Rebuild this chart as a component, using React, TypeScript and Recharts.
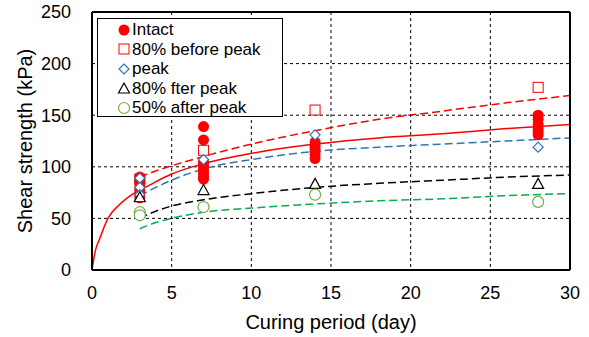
import React from 'react'
import { ComposedChart, Scatter, Line, XAxis, YAxis, CartesianGrid } from 'recharts'

const FONT = '"Liberation Sans", Arial, sans-serif'

const xTicks = [0, 5, 10, 15, 20, 25, 30]
const yTicks = [0, 50, 100, 150, 200, 250]
const yMinorTicks = [0, 25, 50, 75, 100, 125, 150, 175, 200, 225, 250]

// test results per curing day (3, 7, 14, 28 days)
const curingDays = [3, 7, 14, 28]
const intactVals = [
  [90, 87, 84, 80, 77, 73, 70],
  [139, 126, 105, 102, 99, 96, 93, 90, 88],
  [124, 121, 118, 115, 112, 108],
  [150, 146, 141, 137, 134, 131],
]
const beforePeakVals = [[88], [116], [155], [177]]
const peakVals = [[89, 80, 73], [107], [131], [119]]
const afterPeakVals = [[70], [77], [83], [83]]
const halfAfterVals = [[56, 53], [61], [73], [66]]

// fitted curves
const fitDaysIntact = [0, 0.2, 0.5, 1, 1.7, 2.5, 3.7, 5, 7, 10, 14, 18, 22, 26, 30]
const fitIntact = [0, 18, 31, 50, 63, 73, 83, 93, 103, 113, 122, 128, 132, 137, 141]
const fitDays = [3, 4, 5, 7, 10, 14, 18, 22, 26, 30]
const fitBeforePeak = [90, 96, 101, 110, 122, 135, 146, 154, 162, 169]
const fitPeak = [72, 80, 87, 98, 107, 115, 119, 122, 125, 128]
const fitAfterPeak = [50, 57, 62, 68, 74, 80, 84, 87, 90, 92]
const fitHalfAfter = [40, 46, 50, 56, 60, 64, 67, 69, 72, 74]

const points = (vals: number[][]) =>
  vals.flatMap((col, i) => col.map((y) => ({ x: curingDays[i], y })))

const curve = (days: number[], vals: number[]) => days.map((x, i) => ({ x, y: vals[i] }))

const RED = '#FF0000'
const BLUE = '#2E75B6'
const GREEN_LINE = '#00B050'
const GREEN_MARK = '#70AD47'

const Dot = ({ cx, cy }: any) => <circle cx={cx} cy={cy} r={5.5} fill={RED} />
const Square = ({ cx, cy }: any) => (
  <rect x={cx - 5} y={cy - 5} width={10} height={10} fill="#fff" stroke={RED} strokeWidth={1} />
)
const Diamond = ({ cx, cy }: any) => (
  <path d={`M${cx},${cy - 5}L${cx + 5},${cy}L${cx},${cy + 5}L${cx - 5},${cy}Z`} fill="#fff" stroke={BLUE} strokeWidth={1.2} />
)
const Triangle = ({ cx, cy }: any) => (
  <path d={`M${cx},${cy - 6}L${cx + 5.5},${cy + 4}L${cx - 5.5},${cy + 4}Z`} fill="#fff" stroke="#000" strokeWidth={1.2} />
)
const Ring = ({ cx, cy }: any) => <circle cx={cx} cy={cy} r={5.5} fill="#fff" stroke={GREEN_MARK} strokeWidth={1.2} />

const legendItems = [
  { name: 'Intact', Shape: Dot },
  { name: '80% before peak', Shape: Square },
  { name: 'peak', Shape: Diamond },
  { name: '80% fter peak', Shape: Triangle },
  { name: '50% after peak', Shape: Ring },
]

function LegendBox() {
  return (
    <div
      style={{
        position: 'absolute',
        left: 97,
        top: 18,
        border: '1px solid #000',
        background: '#fff',
        width: 186,
        height: 99,
        boxSizing: 'border-box',
        paddingTop: 1,
        fontFamily: FONT,
        fontSize: 17,
        lineHeight: '19.6px',
        color: '#000',
      }}
    >
      {legendItems.map(({ name, Shape }) => (
        <div key={name} style={{ display: 'flex', alignItems: 'center', height: 19.6 }}>
          <svg width={14} height={14} style={{ marginLeft: 19, marginRight: 1 }}>
            <Shape cx={7} cy={7} />
          </svg>
          <span>{name}</span>
        </div>
      ))}
    </div>
  )
}

const tickStyle = { fontFamily: FONT, fontSize: 18, fill: '#000' }
const frame = { stroke: '#000', strokeWidth: 2 }

export default function App() {
  return (
    <div style={{ position: 'absolute', left: 0, top: 0, width: 589, height: 337, background: '#fff' }}>
      <ComposedChart width={589} height={337} margin={{ top: 12, right: 19, left: 0, bottom: 0 }}>
        <CartesianGrid stroke="#000" strokeDasharray="3 3" strokeWidth={1} />
        <XAxis
          type="number"
          dataKey="x"
          domain={[0, 30]}
          ticks={xTicks}
          height={67}
          tickLine={false}
          tickSize={0}
          tickMargin={16}
          axisLine={frame}
          tick={tickStyle}
          label={({ viewBox }: any) => (
            <text
              x={viewBox.x + viewBox.width / 2}
              y={viewBox.y + 59}
              textAnchor="middle"
              style={{ fontFamily: FONT, fontSize: 20, fill: '#000' }}
            >
              Curing period (day)
            </text>
          )}
        />
        <XAxis xAxisId="top" orientation="top" type="number" domain={[0, 30]} ticks={xTicks} mirror tick={false} tickSize={5} axisLine={frame} tickLine={{ stroke: '#000' }} />
        <YAxis
          type="number"
          dataKey="y"
          domain={[0, 250]}
          ticks={yTicks}
          width={92}
          tickLine={false}
          tickSize={0}
          tickMargin={21}
          axisLine={frame}
          tick={tickStyle}
          label={({ viewBox }: any) => (
            <text
              x={25}
              y={viewBox.y + viewBox.height / 2}
              textAnchor="middle"
              dominantBaseline="central"
              transform={`rotate(-90, 25, ${viewBox.y + viewBox.height / 2})`}
              style={{ fontFamily: FONT, fontSize: 20, fill: '#000' }}
            >
              Shear strength (kPa)
            </text>
          )}
        />
        <YAxis yAxisId="inner" orientation="left" type="number" domain={[0, 250]} ticks={yMinorTicks} mirror tick={false} tickSize={5} axisLine={false} tickLine={{ stroke: '#000' }} />
        <YAxis yAxisId="right" orientation="right" type="number" domain={[0, 250]} ticks={yMinorTicks} mirror tick={false} tickSize={5} axisLine={frame} tickLine={{ stroke: '#000' }} />

        {/* squares sit under the intact column, the other open markers on top of it */}
        <Scatter data={points(beforePeakVals)} shape={Square} isAnimationActive={false} />
        <Scatter data={points(intactVals)} shape={Dot} isAnimationActive={false} />
        <Scatter data={points(peakVals)} shape={Diamond} isAnimationActive={false} />
        <Scatter data={points(afterPeakVals)} shape={Triangle} isAnimationActive={false} />
        <Scatter data={points(halfAfterVals)} shape={Ring} isAnimationActive={false} />

        <Line data={curve(fitDaysIntact, fitIntact)} dataKey="y" type="monotone" stroke={RED} strokeWidth={1.5} dot={false} isAnimationActive={false} />
        <Line data={curve(fitDays, fitBeforePeak)} dataKey="y" type="monotone" stroke={RED} strokeWidth={1.5} strokeDasharray="8 4" dot={false} isAnimationActive={false} />
        <Line data={curve(fitDays, fitPeak)} dataKey="y" type="monotone" stroke={BLUE} strokeWidth={1.5} strokeDasharray="8 4" dot={false} isAnimationActive={false} />
        <Line data={curve(fitDays, fitAfterPeak)} dataKey="y" type="monotone" stroke="#000" strokeWidth={1.5} strokeDasharray="8 4" dot={false} isAnimationActive={false} />
        <Line data={curve(fitDays, fitHalfAfter)} dataKey="y" type="monotone" stroke={GREEN_LINE} strokeWidth={1.5} strokeDasharray="8 4" dot={false} isAnimationActive={false} />
      </ComposedChart>
      <LegendBox />
    </div>
  )
}
